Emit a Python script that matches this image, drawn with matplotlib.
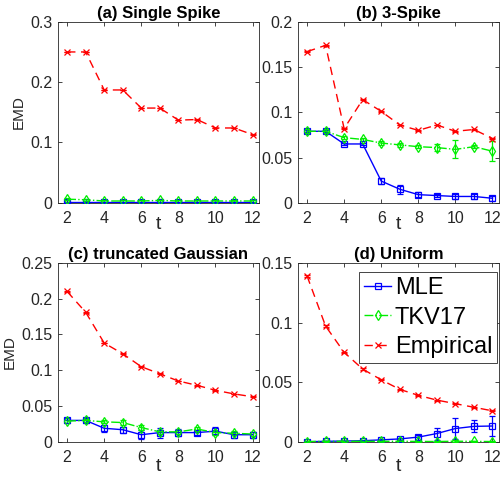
import matplotlib
matplotlib.use("Agg")
import matplotlib.pyplot as plt
from matplotlib.ticker import FuncFormatter
from matplotlib.lines import Line2D

plt.rcParams['font.family'] = ['Liberation Sans', 'DejaVu Sans']

t = [2, 3, 4, 5, 6, 7, 8, 9, 10, 11, 12]

# (a) Single Spike
a_mle = [0.0005, 0.0005, 0.0005, 0.0005, 0.0005, 0.0005, 0.0005, 0.0005, 0.0005, 0.0005, 0.0005]
a_mle_err = [0.0005] * 11
a_tkv = [0.006, 0.005, 0.003, 0.003, 0.003, 0.004, 0.003, 0.003, 0.003, 0.003, 0.003]
a_tkv_err = [0.002, 0.002, 0.002, 0.002, 0.002, 0.002, 0.002, 0.002, 0.002, 0.002, 0.002]
a_emp = [0.250, 0.250, 0.187, 0.187, 0.157, 0.157, 0.137, 0.138, 0.124, 0.124, 0.113]

# (b) 3-Spike
b_mle = [0.079, 0.079, 0.065, 0.065, 0.024, 0.015, 0.009, 0.008, 0.007, 0.007, 0.005]
b_mle_err = [0.001, 0.001, 0.001, 0.001, 0.003, 0.005, 0.003, 0.002, 0.003, 0.003, 0.003]
b_tkv = [0.079, 0.079, 0.072, 0.070, 0.066, 0.064, 0.062, 0.061, 0.059, 0.062, 0.057]
b_tkv_err = [0.002, 0.002, 0.002, 0.002, 0.002, 0.002, 0.002, 0.004, 0.010, 0.002, 0.011]
b_emp = [0.167, 0.174, 0.082, 0.114, 0.101, 0.086, 0.080, 0.086, 0.079, 0.081, 0.071]

# (c) truncated Gaussian
c_mle = [0.030, 0.030, 0.019, 0.017, 0.010, 0.013, 0.013, 0.013, 0.015, 0.010, 0.010]
c_mle_err = [0.003, 0.003, 0.005, 0.004, 0.006, 0.007, 0.005, 0.004, 0.006, 0.004, 0.004]
c_tkv = [0.029, 0.030, 0.028, 0.027, 0.020, 0.014, 0.014, 0.018, 0.013, 0.012, 0.011]
c_tkv_err = [0.002, 0.002, 0.002, 0.003, 0.003, 0.003, 0.003, 0.003, 0.003, 0.003, 0.003]
c_emp = [0.210, 0.181, 0.138, 0.123, 0.105, 0.095, 0.085, 0.079, 0.072, 0.067, 0.063]

# (d) Uniform
d_mle = [0.0001, 0.0005, 0.0007, 0.001, 0.0017, 0.0025, 0.004, 0.007, 0.0112, 0.013, 0.0133]
d_mle_err = [0.0002, 0.0003, 0.0003, 0.0004, 0.0005, 0.001, 0.002, 0.005, 0.009, 0.005, 0.008]
d_tkv = [0.0003, 0.0005, 0.0005, 0.0005, 0.0005, 0.0005, 0.0004, 0.0003, 0.0006, 0.0004, 0.0003]
d_tkv_err = [0.0003, 0.0005, 0.0005, 0.0005, 0.0005, 0.0005, 0.0004, 0.0003, 0.0006, 0.0004, 0.0003]
d_emp = [0.139, 0.097, 0.075, 0.061, 0.052, 0.044, 0.039, 0.035, 0.032, 0.029, 0.026]

titles = ['(a) Single Spike', '(b) 3-Spike', '(c) truncated Gaussian', '(d) Uniform']
ylims = [0.3, 0.2, 0.25, 0.15]
ysteps = [0.1, 0.05, 0.05, 0.05]
series_names = ['MLE', 'TKV17', 'Empirical']
data = [
    (a_mle, a_mle_err, a_tkv, a_tkv_err, a_emp),
    (b_mle, b_mle_err, b_tkv, b_tkv_err, b_emp),
    (c_mle, c_mle_err, c_tkv, c_tkv_err, c_emp),
    (d_mle, d_mle_err, d_tkv, d_tkv_err, d_emp),
]

BLUE, GREEN, RED = '#0000ff', '#00ee00', '#ff0000'
styles = [
    dict(color=BLUE, marker='s', ms=4, mfc='none', mew=0.9, lw=1.0, ls='-'),
    dict(color=GREEN, marker='d', ms=5, mfc='none', mew=0.9, lw=1.0, ls='-.'),
    dict(color=RED, marker='x', ms=4, mew=0.9, lw=1.0, ls=(0, (6, 4))),
]

fig = plt.figure(figsize=(5.03, 4.84), dpi=100)
rects = [
    [0.115, 0.581, 0.400, 0.374],
    [0.592, 0.581, 0.400, 0.374],
    [0.115, 0.087, 0.400, 0.370],
    [0.592, 0.087, 0.400, 0.370],
]
fmt = FuncFormatter(lambda v, p: ('%g' % round(v, 4)))
grey = '#262626'
for i, ax_rect in enumerate(rects):
    ax = fig.add_axes(ax_rect)
    mle, mle_err, tkv, tkv_err, emp = data[i]
    ax.errorbar(t, mle, yerr=mle_err, capsize=2, elinewidth=0.9, zorder=3, **styles[0])
    ax.errorbar(t, tkv, yerr=tkv_err, capsize=2, elinewidth=0.9, zorder=3, **styles[1])
    ax.errorbar(t, emp, yerr=[0.0005] * 11, capsize=2, elinewidth=0.9, zorder=3, **styles[2])
    ax.set_xlim(1.5, 12.35)
    ax.set_ylim(0, ylims[i])
    ax.set_xticks([2, 4, 6, 8, 10, 12])
    n = int(round(ylims[i] / ysteps[i]))
    ax.set_yticks([k * ysteps[i] for k in range(n + 1)])
    ax.yaxis.set_major_formatter(fmt)
    ax.tick_params(direction='in', top=True, right=True, length=3, width=0.6,
                   labelsize=11.5, colors=grey, labelcolor=grey)
    ax.tick_params(axis='x', pad=6)
    ax.tick_params(axis='y', pad=4)
    for s in ax.spines.values():
        s.set_color(grey)
        s.set_linewidth(0.6)
    ax.set_title(titles[i], fontsize=12, fontweight='bold', pad=3, color='black')
    if i < 2:
        ax.set_xlabel('t', fontsize=14, labelpad=-7, color=grey)
    else:
        ax.set_xlabel('t', fontsize=14, labelpad=-5, color=grey)
    if i % 2 == 0:
        ax.set_ylabel('EMD', fontsize=11, labelpad=3, color=grey)
    if i == 3:
        handles = [Line2D([], [], **st) for st in styles]
        leg = ax.legend(handles, series_names, loc='upper right', fontsize=17,
                        handlelength=1.15, handletextpad=0.15,
                        borderpad=0.2, labelspacing=0.32, fancybox=False, framealpha=1,
                        borderaxespad=0, bbox_to_anchor=(0.99, 0.947))
        leg.get_frame().set_edgecolor(grey)
        leg.get_frame().set_linewidth(0.6)

fig.savefig('out.png', dpi=100)
